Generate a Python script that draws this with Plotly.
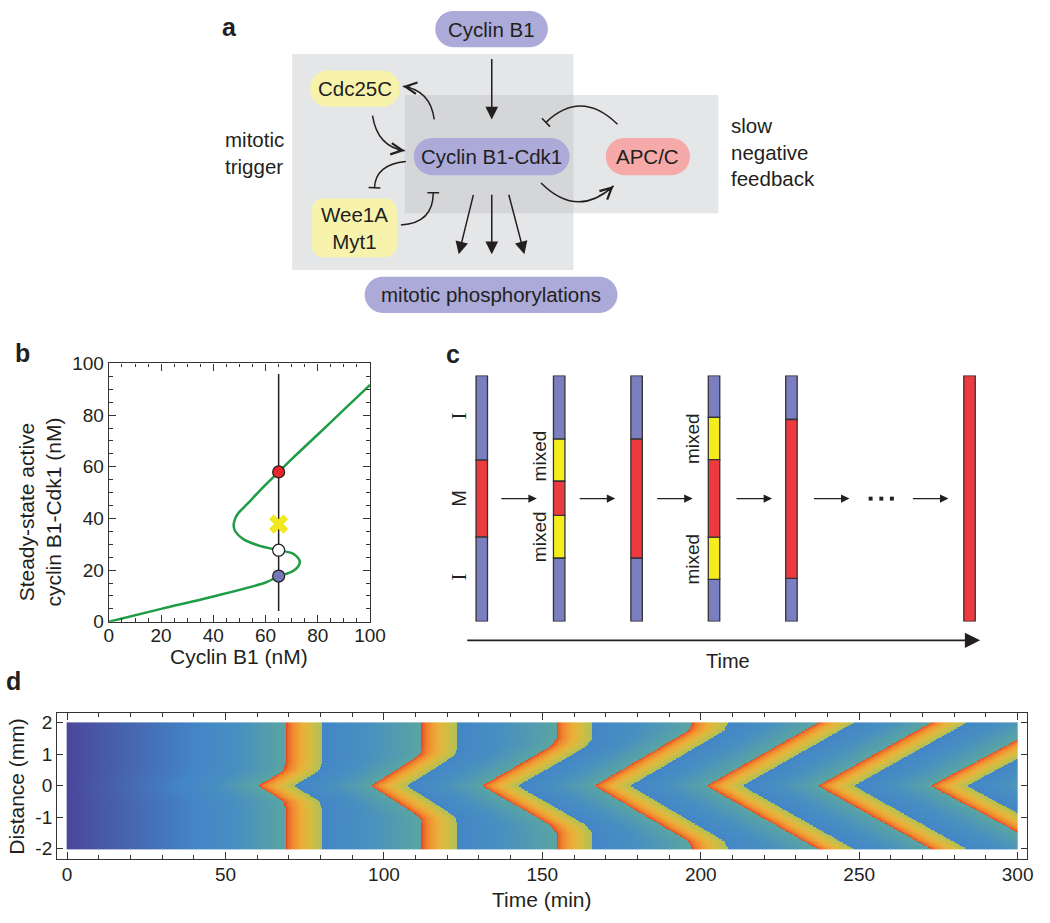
import numpy as np
import plotly.graph_objects as go

W, H = 1050, 923
FONT = "Liberation Sans"
INK = "#231f20"

# ---------------- Panel b data (bistable steady-state curve) ----------------
cdk_active = [0, 5.0, 9.8, 15.2, 17.6, 19.5, 21.6, 23.1, 24.8, 26.5, 27.7, 29.4, 31.9, 35.0,
              36.9, 39.5, 42.0, 45.6, 51.0, 58.0, 63.0, 72.5, 82.1, 91.7]
cyclin_b1 = [0, 20, 40, 60, 65, 70.3, 72.6, 73.1, 72.4, 70.3, 65, 57.8, 51.6, 48.4,
             47.8, 48.2, 49.5, 53.0, 58.0, 65, 70, 80, 90, 100]
state_cyclin = [65, 65, 65]
state_cdk = [58.0, 27.7, 17.7]
state_colors = ["#e8262a", "#ffffff", "#7478b8"]
perturb_cyclin = [65]
perturb_cdk = [37.8]
guide_cyclin = [65, 65]
guide_cdk = [4.2, 95.9]

# ---------------- Panel c data (cell-cycle states across extract) ----------------
stage_pos = [1, 2, 3, 4, 5, 7.3]
seg_stage = [0, 0, 0, 1, 1, 1, 1, 1, 2, 2, 2, 3, 3, 3, 3, 3, 4, 4, 4, 5]
seg_phase = ["I", "M", "I", "I", "mixed", "M", "mixed", "I", "I", "M", "I",
             "I", "mixed", "M", "mixed", "I", "I", "M", "I", "M"]
seg_lo = [0, 34.4, 65.6, 0, 25.8, 43.1, 57.0, 74.1, 0, 25.8, 74.1,
          0, 17.1, 34.3, 65.8, 83.0, 0, 17.5, 82.1, 0]
seg_hi = [34.4, 65.6, 100, 25.8, 43.1, 57.0, 74.1, 100, 25.8, 74.1, 100,
          17.1, 34.3, 65.8, 83.0, 100, 17.5, 82.1, 100, 100]
phase_colors = {"I": "#7b7ec0", "mixed": "#f5ec1c", "M": "#ec3a3f"}

front_dist = [0, 0.25, 0.5, 0.75, 1.0, 1.25, 1.5, 1.75, 2.0]
front_times = [
    [60.3, 64.5, 68.4, 69.1, 69.1, 69.1, 69.1, 69.1, 69.1],
    [95.9, 99.9, 103.9, 107.8, 111.4, 111.9, 111.9, 111.9, 111.9],
    [130.9, 135.3, 139.7, 144.1, 148.4, 152.6, 154.6, 154.6, 154.6],
    [166.5, 170.7, 175.0, 179.2, 183.5, 187.7, 192.0, 196.2, 197.4],
    [201.9, 206.3, 210.7, 215.1, 219.5, 223.9, 228.3, 232.7, 237.1],
    [237.1, 241.6, 246.0, 250.5, 254.9, 259.4, 263.8, 268.3, 272.7],
    [272.7, 277.4, 282.0, 286.7, 291.4, 296.0, 300.7, 305.4, 310.0],
]
band_width = 11.3
time_grid = np.arange(0, 300.001, 0.25)
dist_grid = np.round(np.arange(-2, 2.0001, 0.02), 3)

# colour levels of the activity map
z_start, z_teal, z_blue, z_band_end = 0.0, 0.42, 0.25, 0.58
heat_scale = [
    [0.00, "#4a479c"], [0.12, "#4766b0"], [0.25, "#4386c8"], [0.33, "#4890c0"],
    [0.42, "#5aa5a2"], [0.50, "#78b488"], [0.58, "#afbf58"], [0.66, "#d4bd42"],
    [0.74, "#ecae38"], [0.84, "#f08a30"], [0.93, "#ea6028"], [1.00, "#e03c22"],
]

TT, YY = np.meshgrid(time_grid, dist_grid)
fr = np.array([np.interp(np.abs(dist_grid), front_dist, f) for f in front_times])  # (k, ny)
Z = z_start + (z_teal - z_start) * TT / fr[0][:, None]
in_band = np.zeros_like(TT, dtype=bool)
nk = len(front_times)
for k in range(nk):
    Tk = fr[k][:, None]
    Tn = fr[k + 1][:, None] if k + 1 < nk else Tk + 35.0
    s = TT - Tk
    m_band = (s >= 0) & (s < band_width)
    Z = np.where(m_band, 1 - (1 - z_band_end) * (np.clip(s, 0, None) / band_width) ** 0.6, Z)
    frac = (TT - Tk - band_width) / (Tn - Tk - band_width)
    m_after = (s >= band_width) & (TT < Tn)
    Z = np.where(m_after, z_blue + (z_teal - z_blue) * np.clip(frac, 0, 1), Z)
    in_band |= m_band
centre_row = np.where(dist_grid == 0)[0]
for r in centre_row:
    Z[r] = np.where(in_band[r], Z[r], np.minimum(Z[r] + 0.08, 0.45))
Z = np.round(Z, 3)

# ---------------- helpers ----------------
def X(px):
    return px / W

def Y(py):
    return 1 - py / H

def pt(x, y):
    return f"{X(x):.5f},{Y(y):.5f}"

shapes, annotations = [], []

def add_path(d, **kw):
    shapes.append(dict(type="path", path=d, xref="paper", yref="paper", **kw))

def pill(x0, y0, x1, y1, fill, r=None):
    if r is None:
        r = (y1 - y0) / 2
    k = 0.5523 * r
    d = (f"M{pt(x0 + r, y0)} L{pt(x1 - r, y0)} C{pt(x1 - r + k, y0)} {pt(x1, y0 + r - k)} {pt(x1, y0 + r)} "
         f"L{pt(x1, y1 - r)} C{pt(x1, y1 - r + k)} {pt(x1 - r + k, y1)} {pt(x1 - r, y1)} "
         f"L{pt(x0 + r, y1)} C{pt(x0 + r - k, y1)} {pt(x0, y1 - r + k)} {pt(x0, y1 - r)} "
         f"L{pt(x0, y0 + r)} C{pt(x0, y0 + r - k)} {pt(x0 + r - k, y0)} {pt(x0 + r, y0)} Z")
    add_path(d, fillcolor=fill, line=dict(width=0), layer="above")

def rect(x0, y0, x1, y1, fill):
    shapes.append(dict(type="rect", xref="paper", yref="paper", x0=X(x0), x1=X(x1),
                       y0=Y(y1), y1=Y(y0), fillcolor=fill, line=dict(width=0), layer="above"))

def text(x, y, s, size=20.5, bold=False, angle=0, xanchor="center", align="center", family=FONT):
    t = f"<b>{s}</b>" if bold else s
    annotations.append(dict(x=X(x), y=Y(y), xref="paper", yref="paper", text=t, showarrow=False,
                            font=dict(family=family, size=size, color=INK), textangle=angle,
                            xanchor=xanchor, yanchor="middle", align=align))

def head(hx, hy, tx, ty, style=3, size=1.2, width=1.5):
    annotations.append(dict(x=X(hx), y=Y(hy), xref="paper", yref="paper", text="",
                            showarrow=True, ax=tx - hx, ay=ty - hy, arrowhead=style,
                            arrowsize=size, arrowwidth=width, arrowcolor=INK,
                            standoff=0, startstandoff=0))

def curve(p0, p1, p2, end="arrow"):
    add_path(f"M{pt(*p0)} Q{pt(*p1)} {pt(*p2)}", line=dict(color=INK, width=1.5), layer="above")
    tx, ty = p2[0] - p1[0], p2[1] - p1[1]
    n = (tx ** 2 + ty ** 2) ** 0.5
    tx, ty = tx / n, ty / n
    if end == "arrow":
        head(p2[0], p2[1], p2[0] - 9 * tx, p2[1] - 9 * ty, style=5, size=1.5, width=1.5)
    else:
        L = 6
        shapes.append(dict(type="line", xref="paper", yref="paper",
                           x0=X(p2[0] - ty * L), y0=Y(p2[1] + tx * L),
                           x1=X(p2[0] + ty * L), y1=Y(p2[1] - tx * L),
                           line=dict(color=INK, width=1.5), layer="above"))

# ---------------- Panel a: network diagram ----------------
GRAY = "rgba(187,189,193,0.38)"
LAV, YEL, PINK = "#abaad8", "#f8f3ac", "#f5a9a8"
rect(293, 45, 580, 266, GRAY)
rect(408, 87, 728, 208, GRAY)
pill(439, 1, 554, 38, LAV)
pill(311, 62, 403, 99, YEL)
pill(417, 131, 576, 169, LAV)
pill(613, 131, 699, 169, PINK)
pill(313, 193, 400, 253, YEL, r=12)
pill(367, 273, 625, 310, LAV)
text(496.5, 19.5, "Cyclin B1")
text(357, 80.5, "Cdc25C")
text(496.5, 150, "Cyclin B1-Cdk1")
text(656, 150, "APC/C")
text(356.5, 223, "Wee1A<br>Myt1")
text(496, 291.5, "mitotic phosphorylations")
text(222, 146, "mitotic<br>trigger", xanchor="left", align="left")
text(739, 145, "slow<br>negative<br>feedback", xanchor="left", align="left")
text(229, 17, "a", size=25, bold=True)

head(496.7, 112, 496.7, 50, style=2, size=1.7)
head(463, 250, 478, 189, style=2, size=1.7)
head(496.7, 250, 496.7, 189, style=2, size=1.7)
head(530, 250, 514, 189, style=2, size=1.7)
curve((438, 112), (434, 82), (406, 78))
curve((375, 108), (380, 140), (408, 144))
curve((409, 155), (378, 158), (377, 182), end="bar")
curve((404, 220), (437, 218), (437, 187), end="bar")
curve((625, 117), (588, 80.6), (552, 115), end="bar")
curve((547, 177), (584, 214), (621, 180))

# ---------------- Panel b labels ----------------
text(18, 351, "b", size=25, bold=True)
text(239, 662, "Cyclin B1 (nM)", size=21)
text(36, 514, "Steady-state active<br>cyclin B1-Cdk1 (nM)", size=21, angle=-90)

# ---------------- Panel c labels / arrows ----------------
text(456.7, 352, "c", size=25, bold=True)
text(463.3, 416, "I", size=21, angle=-90, family="Liberation Serif")
text(463.3, 580.7, "I", size=21, angle=-90, family="Liberation Serif")
text(463.3, 500, "M", size=20, angle=-90)
for (mx, my) in [(545, 456.7), (545, 539.3), (701.7, 438.3), (701.7, 561.7)]:
    text(mx, my, "mixed", size=19, angle=-90)
for hx in [542.7, 622.7, 701.7, 782.7, 861.7, 962.7]:
    head(hx, 500, hx - 37, 500, style=2, size=1.3, width=1.3)
for dxp in [883.3, 894.2, 905]:
    rect(dxp - 2, 498, dxp + 2, 502, INK)
head(995, 645, 480.7, 645, style=2, size=1.9, width=1.6)
text(738, 666, "Time", size=20)

# ---------------- Panel d labels ----------------
text(9, 687, "d", size=25, bold=True)
text(548, 910, "Time (min)", size=21)
text(12, 794, "Distance (mm)", size=21, angle=-90)

# ---------------- traces ----------------
fig = go.Figure()
fig.add_trace(go.Scatter(x=guide_cyclin, y=guide_cdk, mode="lines",
                         line=dict(color=INK, width=1.5), xaxis="x", yaxis="y", showlegend=False))
fig.add_trace(go.Scatter(x=cyclin_b1, y=cdk_active, mode="lines",
                         line=dict(color="#1f9d45", width=2.5, shape="spline", smoothing=0.8),
                         xaxis="x", yaxis="y", showlegend=False))
fig.add_trace(go.Scatter(x=perturb_cyclin, y=perturb_cdk, mode="markers",
                         marker=dict(symbol="x", size=17, color="#f3e81d", line=dict(width=0)),
                         xaxis="x", yaxis="y", showlegend=False))
fig.add_trace(go.Scatter(x=state_cyclin, y=state_cdk, mode="markers",
                         marker=dict(size=12, color=state_colors, line=dict(color=INK, width=1.2)),
                         xaxis="x", yaxis="y", showlegend=False))

for ph in ["I", "mixed", "M"]:
    idx = [i for i, p in enumerate(seg_phase) if p == ph]
    fig.add_trace(go.Bar(x=[stage_pos[seg_stage[i]] for i in idx],
                         y=[seg_hi[i] - seg_lo[i] for i in idx],
                         base=[seg_lo[i] for i in idx], width=0.148,
                         marker=dict(color=phase_colors[ph], line=dict(color="#333333", width=1.3)),
                         xaxis="x2", yaxis="y2", showlegend=False))

fig.add_trace(go.Heatmap(x=time_grid, y=dist_grid, z=Z, colorscale=heat_scale, zmin=0, zmax=1,
                         showscale=False, xaxis="x3", yaxis="y3"))

tickfont = dict(family=FONT, size=19, color=INK)
frame = dict(showline=True, linecolor="#333333", linewidth=1.4, mirror="allticks",
             ticks="inside", tickcolor="#333333", tickwidth=1.3, showgrid=False,
             zeroline=False, tickfont=tickfont, fixedrange=True)

fig.update_layout(
    width=W, height=H, autosize=False, margin=dict(l=0, r=0, t=0, b=0),
    paper_bgcolor="white", plot_bgcolor="white", barmode="overlay",
    shapes=shapes, annotations=annotations,
    xaxis=dict(domain=[X(106), X(372.5)], anchor="y", range=[0, 100], tickvals=list(range(0, 101, 20)),
               ticklen=7, ticklabelstandoff=-4,
               minor=dict(ticks="inside", dtick=5, ticklen=3.5, tickcolor="#333333"), **frame),
    yaxis=dict(domain=[Y(626), Y(361.7)], anchor="x", range=[0, 100], tickvals=list(range(0, 101, 20)),
               ticklen=7, minor=dict(ticks="inside", dtick=5, ticklen=3.5, tickcolor="#333333"), **frame),
    xaxis2=dict(domain=[X(440), X(1000)], anchor="y2", range=[0.4114, 7.5], visible=False, fixedrange=True),
    yaxis2=dict(domain=[Y(625.7), Y(374)], anchor="x2", range=[0, 100], visible=False, fixedrange=True),
    xaxis3=dict(domain=[X(53.3), X(1043.3)], anchor="y3", range=[-3.1, 303.1],
                tickvals=list(range(0, 301, 50)), ticklen=7, ticklabelstandoff=-2,
                minor=dict(ticks="inside", dtick=10, ticklen=4, tickcolor="#333333"), **frame),
    yaxis3=dict(domain=[Y(869), Y(719.3)], anchor="x3", range=[-2.33, 2.31],
                tickvals=[-2, -1, 0, 1, 2], ticktext=["-2", "-1", "0", "1", "2"], ticklen=6, **frame),
)

page_fix = (
    "document.documentElement.style.margin='0';document.documentElement.style.padding='0';"
    "document.body.style.margin='0';document.body.style.padding='0';"
)
fig.write_html("out.html", config={"displayModeBar": False}, post_script=page_fix)
